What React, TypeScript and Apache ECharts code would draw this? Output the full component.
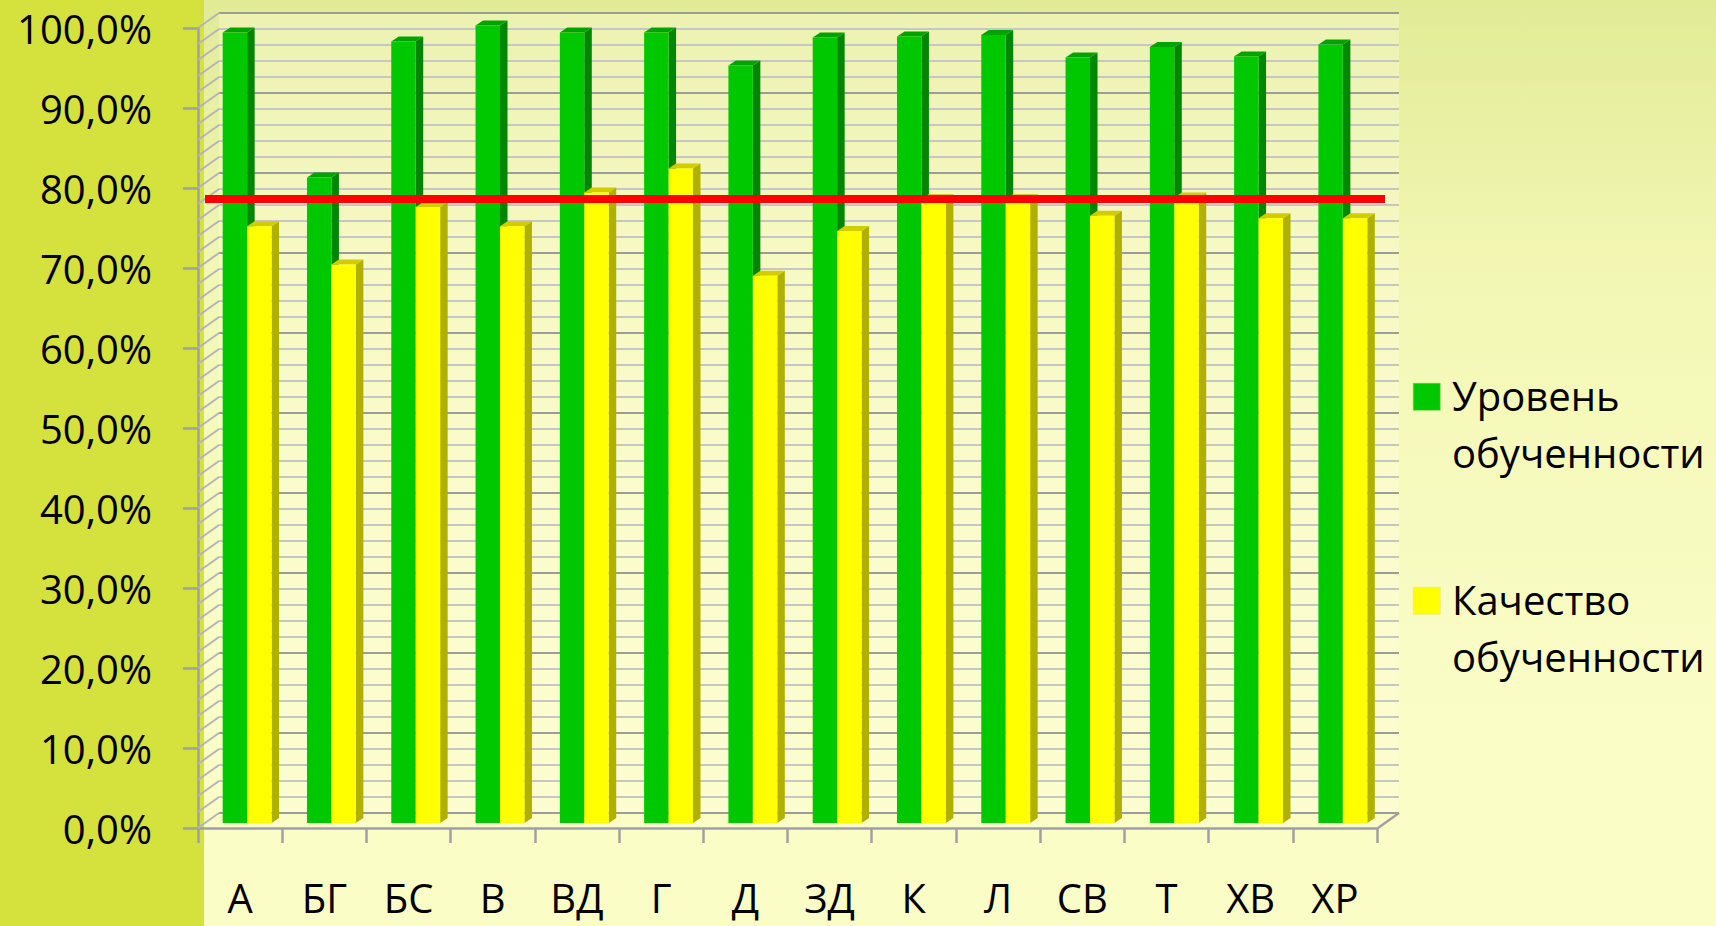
import React, { useEffect, useRef } from "react";
import * as echarts from "echarts";

const categories = ["А", "БГ", "БС", "В", "ВД", "Г", "Д", "ЗД", "К", "Л", "СВ", "Т", "ХВ", "ХР"];
const levelValues = [98.8, 80.7, 97.7, 99.7, 98.8, 98.8, 94.7, 98.2, 98.3, 98.5, 95.7, 97.0, 95.8, 97.3];
const qualityValues = [74.6, 69.8, 77.0, 74.6, 78.8, 81.8, 68.4, 74.0, 78.0, 78.0, 75.9, 78.2, 75.6, 75.6];
const seriesNames = ["Уровень обученности", "Качество обученности"];
const legendLines = [
  ["Уровень", "обученности"],
  ["Качество", "обученности"],
];
const referenceValue = 78;
const wallTicks = [0, 2, 4, 6, 8, 10, 12, 14, 16, 18, 20, 22, 24, 26, 28, 30, 32, 34, 36, 38, 40, 42, 44, 46, 48, 50, 52, 54, 56, 58, 60, 62, 64, 66, 68, 70, 72, 74, 76, 78, 80, 82, 84, 86, 88, 90, 92, 94, 96, 98, 100];

const FONT = "'Open Sans', 'Noto Sans', sans-serif";
const GREEN = { front: "#00c800", side: "#008600", top: "#00a400" };
const YELLOW = { front: "#ffff00", side: "#b0b000", top: "#d2cc00" };
const DX = 7.5;
const DY = 5;
const WALL_DX = 21;
const WALL_DY = 15;

function barRenderer(side: "left" | "right", colors: { front: string; side: string; top: string }) {
  return (params: any, api: any) => {
    const idx = api.value(0);
    const v = api.value(1);
    const base = api.coord([idx, 0]);
    const top = api.coord([idx, v]);
    const band = api.size([1, 0])[0];
    const bw = band * 0.29;
    const x0 = side === "left" ? base[0] - bw : base[0];
    const x1 = x0 + bw;
    const yt = top[1];
    const yb = base[1];
    return {
      type: "group",
      children: [
        {
          type: "polygon",
          shape: { points: [[x1, yt], [x1 + DX, yt - DY], [x1 + DX, yb - DY], [x1, yb]] },
          style: { fill: colors.side },
        },
        {
          type: "polygon",
          shape: { points: [[x0, yt], [x0 + DX, yt - DY], [x1 + DX, yt - DY], [x1, yt]] },
          style: { fill: colors.top },
        },
        {
          type: "rect",
          shape: { x: x0, y: yt, width: bw, height: yb - yt },
          style: { fill: colors.front },
        },
      ],
    };
  };
}

function wallRenderer(params: any, api: any) {
  const v = api.value(1);
  const p = api.coord([0, v]);
  const left = params.coordSys.x;
  const right = left + params.coordSys.width;
  const stroke = "#b4b4b4";
  const children: any[] = [
    {
      type: "line",
      shape: { x1: left - WALL_DX, y1: p[1] + WALL_DY, x2: left, y2: p[1] },
      style: { stroke, lineWidth: 2 },
    },
  ];
  if (v === 0) {
    children.push({
      type: "line",
      shape: { x1: right - WALL_DX, y1: p[1] + WALL_DY, x2: right, y2: p[1] },
      style: { stroke: "#a0a0a0", lineWidth: 2.5 },
    });
  }
  return { type: "group", children };
}

export default function App() {
  const ref = useRef<HTMLDivElement>(null);

  useEffect(() => {
    document.body.style.margin = "0";
    if (!ref.current) return;
    const chart = echarts.init(ref.current, undefined, { renderer: "svg" });

    const minorColors = ["#9c9c9c", "#c6c6c6", "#c6c6c6", "#c6c6c6", "#c6c6c6"];

    const option: any = {
      animation: false,
      backgroundColor: "transparent",
      textStyle: { fontFamily: FONT },
      grid: [
        // back wall
        { left: 219, top: 13, width: 1180, height: 800, show: true, backgroundColor: "rgba(255,255,225,0.35)", borderWidth: 0 },
        // front axes
        { left: 198, top: 28, width: 1179, height: 800 },
        // bars
        { left: 205, top: 23, width: 1180, height: 800 },
      ],
      xAxis: [
        { gridIndex: 0, type: "category", data: categories, show: false },
        {
          gridIndex: 1,
          type: "category",
          data: categories,
          boundaryGap: true,
          axisLine: { show: true, lineStyle: { color: "#a0a0a0", width: 2.5 } },
          axisTick: { show: true, interval: 0, length: 15, lineStyle: { color: "#a0a0a0", width: 2.5 } },
          axisLabel: { show: true, interval: 0, color: "#000", fontSize: 40, lineHeight: 40, fontFamily: FONT, margin: 49 },
          splitLine: { show: false },
        },
        { gridIndex: 2, type: "category", data: categories, show: false },
      ],
      yAxis: [
        {
          gridIndex: 0,
          type: "value",
          min: 0,
          max: 100,
          interval: 2,
          axisLine: { show: false },
          axisTick: { show: false },
          axisLabel: { show: false },
          splitLine: { show: true, lineStyle: { color: minorColors, width: 2 } },
        },
        {
          gridIndex: 1,
          type: "value",
          min: 0,
          max: 100,
          interval: 10,
          axisLine: { show: true, lineStyle: { color: "#a0a0a0", width: 2.5 } },
          axisTick: { show: true, length: 15, lineStyle: { color: "#a0a0a0", width: 2.5 } },
          axisLabel: {
            show: true,
            color: "#000",
            fontSize: 40,
            fontFamily: FONT,
            margin: 46,
            padding: [8, 0, 0, 0],
            formatter: (v: number) => v.toFixed(1).replace(".", ",") + "%",
          },
          splitLine: { show: false },
        },
        { gridIndex: 2, type: "value", min: 0, max: 100, show: false, splitLine: { show: false } },
      ],
      series: [
        {
          type: "custom",
          name: "wall",
          xAxisIndex: 0,
          yAxisIndex: 0,
          z: 1,
          silent: true,
          renderItem: wallRenderer,
          encode: { x: 0, y: 1 },
          data: wallTicks.map((v) => [0, v]),
        },
        {
          type: "custom",
          name: seriesNames[0],
          xAxisIndex: 2,
          yAxisIndex: 2,
          z: 3,
          renderItem: barRenderer("left", GREEN),
          encode: { x: 0, y: 1 },
          data: levelValues.map((v, i) => [i, v]),
        },
        {
          type: "custom",
          name: seriesNames[1],
          xAxisIndex: 2,
          yAxisIndex: 2,
          z: 4,
          renderItem: barRenderer("right", YELLOW),
          encode: { x: 0, y: 1 },
          data: qualityValues.map((v, i) => [i, v]),
          markLine: {
            silent: true,
            symbol: ["none", "none"],
            label: { show: false },
            z: 10,
            lineStyle: { color: "#ff0000", width: 8, type: "solid" },
            data: [{ yAxis: referenceValue }],
          },
        },
      ],
      graphic: [
        { type: "rect", left: 1413, top: 383, shape: { width: 27, height: 27 }, style: { fill: GREEN.front, stroke: "#7fcf3f", lineWidth: 0.5 } },
        {
          type: "text",
          left: 1452,
          top: 367,
          style: { text: legendLines[0].join("\n"), fontSize: 40, fontFamily: FONT, fill: "#000", lineHeight: 57 },
        },
        { type: "rect", left: 1413, top: 587, shape: { width: 27, height: 27 }, style: { fill: YELLOW.front, stroke: "#e0e070", lineWidth: 0.5 } },
        {
          type: "text",
          left: 1452,
          top: 571,
          style: { text: legendLines[1].join("\n"), fontSize: 40, fontFamily: FONT, fill: "#000", lineHeight: 57 },
        },
      ],
    };

    chart.setOption(option);
    return () => {
      chart.dispose();
    };
  }, []);

  return (
    <div
      style={{
        position: "absolute",
        left: 0,
        top: 0,
        width: 1716,
        height: 926,
        background:
          "linear-gradient(to right, #d5e13c 0px, #d5e13c 204px, transparent 204px), linear-gradient(to bottom, #e1eb96 0%, #f3f7b4 30%, #f9fcc4 70%, #fbfdc7 100%)",
      }}
    >
      <div ref={ref} style={{ width: 1716, height: 926 }} />
    </div>
  );
}
